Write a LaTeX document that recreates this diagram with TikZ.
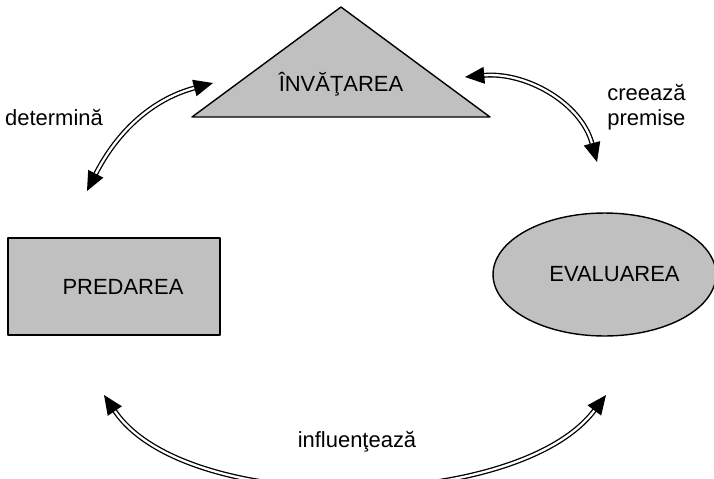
\documentclass[tikz,border=0pt]{standalone}
\usepackage{fontspec}
\setmainfont{Liberation Sans}
\usetikzlibrary{arrows.meta,shapes.geometric}
\definecolor{boxgray}{RGB}{192,192,192}
\tikzset{
	box/.style={draw, line width=0.8pt, fill=boxgray, minimum width=4.24cm, minimum height=1.94cm, inner sep=0pt},
	oval/.style={ellipse, draw, line width=0.8pt, fill=boxgray, minimum width=4.46cm, minimum height=2.46cm, inner sep=0pt},
	link/.style={double, double distance=1.3pt, line width=0.75pt, {Triangle[length=11pt,width=9.5pt]}-{Triangle[length=11pt,width=9.5pt]}},
	lbl/.style={inner sep=0pt}
}
\begin{document}
\begin{tikzpicture}[x=0.02cm, y=-0.02cm, font=\fontsize{12.5}{14.2}\selectfont, line join=round]
	\useasboundingbox (0,0) rectangle (714,478);
	% triunghiul
	\draw[line width=0.8pt, fill=boxgray] (192,117)--(341,7)--(490,117)--cycle;
	\node[lbl, anchor=base] (invatarea) at (341,91) {ÎNVĂŢAREA};
	\node[box] (predarea) at (114,286.5) {\hspace*{0.36cm}PREDAREA};
	\node[oval] (evaluarea) at (604.5,274.5) {\hspace*{0.4cm}EVALUAREA};
	% capetele sagetilor
	\coordinate (p1) at (87,191);  \coordinate (i1) at (213,83);
	\coordinate (i2) at (465,77);  \coordinate (e1) at (597,162);
	\coordinate (p2) at (104,395); \coordinate (e2) at (606,395);
	\draw[link] (p1) to[out=63,in=195] (i1);
	\draw[link] (i2) to[out=5,in=105] (e1);
	\draw[link] (p2) to[out=-56,in=233,looseness=0.75] (e2);
	% etichete
	\node[lbl, anchor=base] (det) at (54,125) {determină};
	\node[lbl, anchor=north west, align=left] (crp) at (607,84) {creează\\premise};
	\node[lbl, anchor=base] (inf) at (357,447) {influenţează};
\end{tikzpicture}
\end{document}
